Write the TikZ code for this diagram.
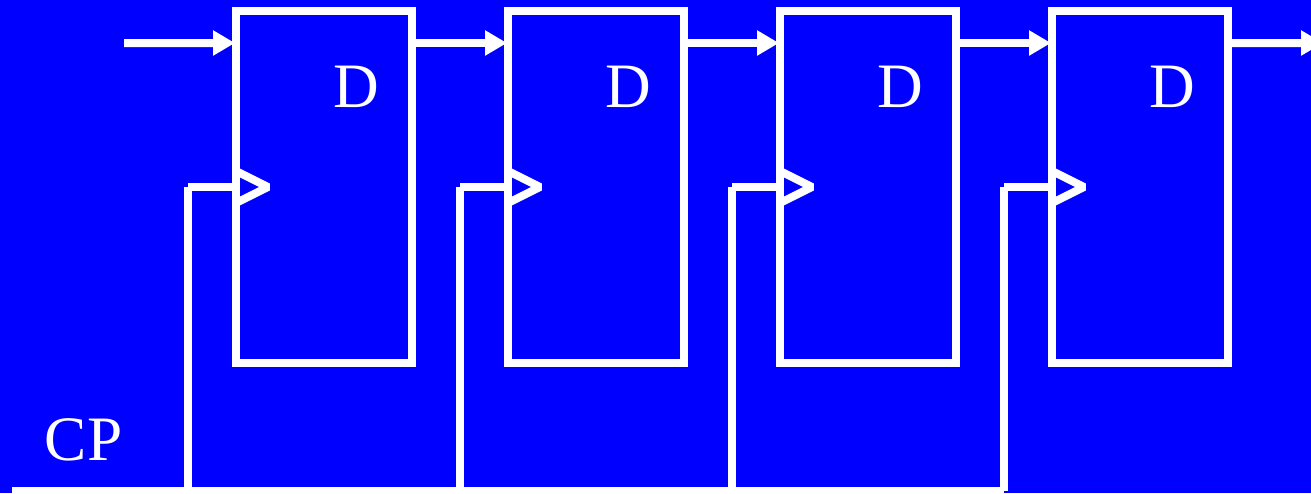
\documentclass[tikz,border=0pt]{standalone}
\usepackage{fontspec}
\setmainfont{Liberation Serif}
\usepackage{tikz}
\usetikzlibrary{calc}
\usetikzlibrary{positioning}
\usetikzlibrary{arrows.meta}
\definecolor{slideblue}{RGB}{0,0,255}
\tikzset{
	ffbox/.style = {draw = white, line width = 0.16cm, inner sep = 0pt, minimum width = 3.52cm, minimum height = 7.04cm},
	wire/.style = {draw = white, line width = 0.16cm},
	datawire/.style = {wire, shorten > = -0.06cm, -{Triangle[length = 0.44cm, width = 0.48cm]}},
	clkmark/.style = {wire, line join = bevel},
	bigtext/.style = {text = white, inner sep = 0pt, anchor = base, font = \fontsize{36}{40}\selectfont}
}
\begin{document}
\begin{tikzpicture}
	\useasboundingbox (0, 0) rectangle (26.22, 9.86);
	\fill[slideblue] (0, 0) rectangle (26.22, 9.86);

	\node[ffbox] (F1) at (6.48, 6.12) {};
	\node[ffbox] (F2) at (11.92, 6.12) {};
	\node[ffbox] (F3) at (17.36, 6.12) {};
	\node[ffbox] (F4) at (22.80, 6.12) {};

	\node[bigtext] (D1) at (7.12, 7.72) {D};
	\node[bigtext] (D2) at (12.56, 7.72) {D};
	\node[bigtext] (D3) at (18.00, 7.72) {D};
	\node[bigtext] (D4) at (23.44, 7.72) {D};
	\node[bigtext] (CP) at (1.67, 0.66) {CP};

	\coordinate (In) at (2.48, 9.0);
	\coordinate (Out) at (26.4, 9.0);
	\coordinate (B0) at (0.24, 0.04);
	\coordinate (B4) at (20.08, 0.04);

	\draw[datawire] (In) -- ($(F1.west) + (0, 2.88)$);
	\draw[datawire] ($(F1.east) + (0, 2.88)$) -- ($(F2.west) + (0, 2.88)$);
	\draw[datawire] ($(F2.east) + (0, 2.88)$) -- ($(F3.west) + (0, 2.88)$);
	\draw[datawire] ($(F3.east) + (0, 2.88)$) -- ($(F4.west) + (0, 2.88)$);
	\draw[datawire] ($(F4.east) + (0, 2.88)$) -- (Out);

	\coordinate (C1) at ($(F1.west) + (-0.88, 0)$);
	\coordinate (C2) at ($(F2.west) + (-0.88, 0)$);
	\coordinate (C3) at ($(F3.west) + (-0.88, 0)$);
	\coordinate (C4) at ($(F4.west) + (-0.88, 0)$);

	\draw[wire] (B0) -- (B4);
	\draw[wire] (C1) -- (F1.west);
	\draw[wire] (C2) -- (F2.west);
	\draw[wire] (C3) -- (F3.west);
	\draw[wire] (C4) -- (F4.west);
	\draw[wire] (C1) -- (C1 |- B0);
	\draw[wire] (C2) -- (C2 |- B0);
	\draw[wire] (C3) -- (C3 |- B0);
	\draw[wire] (C4) -- (C4 |- B0);

	\draw[clkmark] ($(F1.west) + (0.08, 0.32)$) -- ($(F1.west) + (0.72, 0)$) -- ($(F1.west) + (0.08, -0.32)$);
	\draw[clkmark] ($(F2.west) + (0.08, 0.32)$) -- ($(F2.west) + (0.72, 0)$) -- ($(F2.west) + (0.08, -0.32)$);
	\draw[clkmark] ($(F3.west) + (0.08, 0.32)$) -- ($(F3.west) + (0.72, 0)$) -- ($(F3.west) + (0.08, -0.32)$);
	\draw[clkmark] ($(F4.west) + (0.08, 0.32)$) -- ($(F4.west) + (0.72, 0)$) -- ($(F4.west) + (0.08, -0.32)$);
\end{tikzpicture}
\end{document}
